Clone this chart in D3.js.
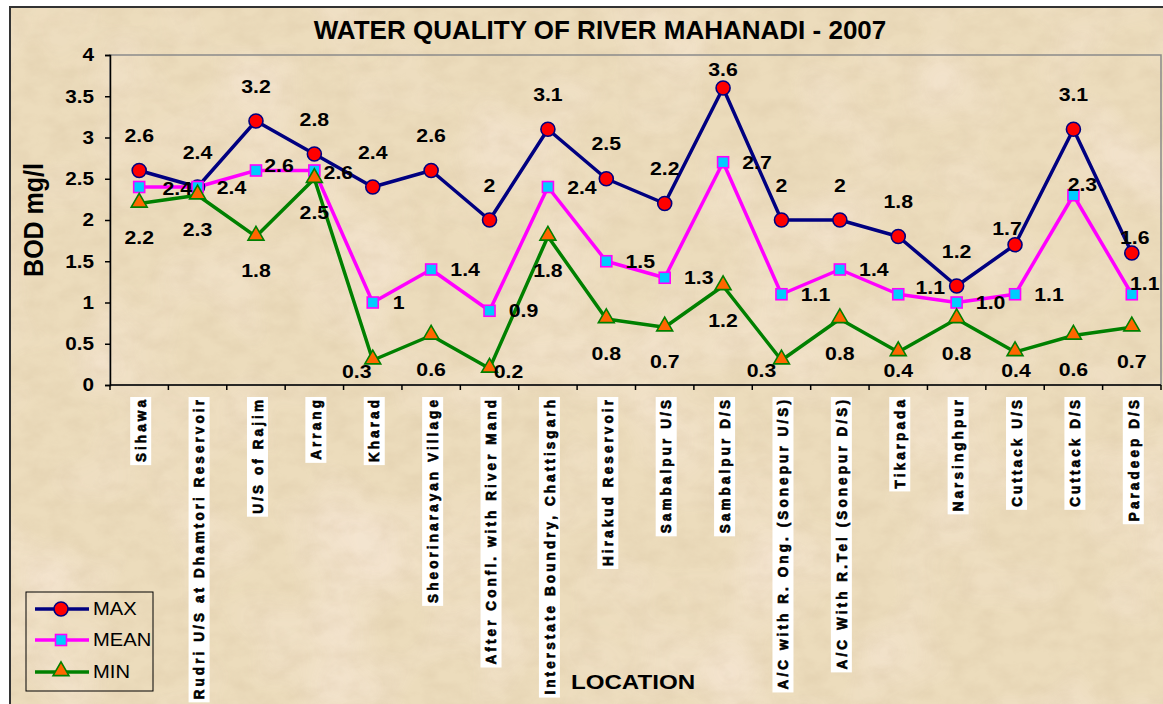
<!DOCTYPE html>
<html>
<head>
<meta charset="utf-8">
<script src="https://cdn.jsdelivr.net/npm/d3@7/dist/d3.min.js"></script>
<style>
  html, body { margin: 0; padding: 0; background: #ffffff; }
  svg { display: block; }
  text { font-family: "Liberation Sans", Arial, sans-serif; fill: #000; }
</style>
</head>
<body>
<script>
// BOD (mg/l) measured along the Mahanadi in 2007
const locations = [
  "Sihawa",
  "Rudri U/S at Dhamtori Reservoir",
  "U/S of Rajim",
  "Arrang",
  "Kharad",
  "Sheorinarayan Village",
  "After Confl. with River Mand",
  "Interstate Boundry, Chattisgarh",
  "Hirakud Reservoir",
  "Sambalpur U/S",
  "Sambalpur D/S",
  "A/C with R. Ong. (Sonepur U/S)",
  "A/C With R.Tel (Sonepur D/S)",
  "Tikarpada",
  "Narsinghpur",
  "Cuttack U/S",
  "Cuttack D/S",
  "Paradeep D/S"
];
const maxValues  = ["2.6","2.4","3.2","2.8","2.4","2.6","2","3.1","2.5","2.2","3.6","2","2","1.8","1.2","1.7","3.1","1.6"];
const meanValues = ["2.4","2.4","2.6","2.6","1","1.4","0.9","2.4","1.5","1.3","2.7","1.1","1.4","1.1","1.0","1.1","2.3","1.1"];
const minValues  = ["2.2","2.3","1.8","2.5","0.3","0.6","0.2","1.8","0.8","0.7","1.2","0.3","0.8","0.4","0.8","0.4","0.6","0.7"];
const yTicks = [0, 0.5, 1, 1.5, 2, 2.5, 3, 3.5, 4];
const seriesNames = ["MAX", "MEAN", "MIN"];

const W = 1163, H = 704;
const plot = { left: 110, right: 1161, top: 55, bottom: 385 };
const SX = 1.12; // horizontal text stretch

const svg = d3.select("body").append("svg").attr("width", W).attr("height", H);
const defs = svg.append("defs");

// parchment texture
const f = defs.append("filter").attr("id", "paper").attr("x", 0).attr("y", 0).attr("width", 1).attr("height", 1);
f.append("feTurbulence").attr("type", "fractalNoise").attr("baseFrequency", "0.04 0.06").attr("numOctaves", 4).attr("seed", 7).attr("result", "n");
f.append("feColorMatrix").attr("in", "n").attr("type", "matrix")
  .attr("values", "0 0 0 0 0.66  0 0 0 0 0.52  0 0 0 0 0.34  0 0 0 -1.6 1.05");
const f2 = defs.append("filter").attr("id", "blotch").attr("x", 0).attr("y", 0).attr("width", 1).attr("height", 1);
f2.append("feTurbulence").attr("type", "fractalNoise").attr("baseFrequency", "0.01").attr("numOctaves", 2).attr("seed", 3).attr("result", "n");
f2.append("feColorMatrix").attr("in", "n").attr("type", "matrix")
  .attr("values", "0 0 0 0 0.95  0 0 0 0 0.82  0 0 0 0 0.72  0 0 0 -2.2 1.25");

const bg = svg.append("g");
bg.append("rect").attr("x", 10).attr("y", 7).attr("width", W).attr("height", H).attr("fill", "#ecdcbc");
bg.append("rect").attr("x", 10).attr("y", 7).attr("width", W).attr("height", H).attr("filter", "url(#blotch)").attr("opacity", 0.6);
bg.append("rect").attr("x", 10).attr("y", 7).attr("width", W).attr("height", H).attr("filter", "url(#paper)").attr("opacity", 0.3);
bg.append("rect").attr("x", 10).attr("y", 7).attr("width", W + 20).attr("height", H + 20)
  .attr("fill", "none").attr("stroke", "#333").attr("stroke-width", 2);

function stext(parent, x, y, str, o = {}) {
  const t = parent.append("text")
    .attr("transform", `translate(${x},${y}) scale(${o.sx ?? SX},1)` + (o.rot ? ` rotate(${o.rot})` : ""))
    .attr("text-anchor", o.anchor || "middle")
    .attr("dy", o.dy ?? "0.35em")
    .style("font-size", (o.size || 18) + "px")
    .style("font-weight", o.weight || "bold")
    .text(str);
  if (o.ls) t.style("letter-spacing", o.ls + "px");
  if (o.heavy) t.attr("stroke", "#000").attr("stroke-width", o.heavy);
  return t;
}

const x = d3.scaleBand().domain(locations).range([plot.left, plot.right]);
const y = d3.scaleLinear().domain([0, 4]).range([plot.bottom, plot.top]);
const cx = d => x(d) + x.bandwidth() / 2;

// plot area frame
svg.append("rect").attr("x", plot.left).attr("y", plot.top)
  .attr("width", plot.right - plot.left).attr("height", plot.bottom - plot.top)
  .attr("fill", "none").attr("stroke", "#8a8a8a").attr("stroke-width", 1.5);

// title
stext(svg, 600, 30, "WATER QUALITY OF RIVER MAHANADI - 2007", { size: 26, sx: 1.0 });

// y axis
const yAxis = svg.append("g").attr("transform", `translate(${plot.left},0)`)
  .call(d3.axisLeft(y).tickValues(yTicks).tickSize(5).tickFormat(d3.format("")));
yAxis.select(".domain").attr("stroke", "#000").attr("stroke-width", 1.5);
yAxis.selectAll(".tick line").attr("stroke", "#000").attr("stroke-width", 1.5);
yAxis.selectAll(".tick text").remove();
yTicks.forEach(v => stext(svg, 94, y(v), d3.format("")(v), { anchor: "end", size: 18.5 }));
stext(svg, 33, 220, "BOD mg/l", { rot: -90, size: 25, sx: 1.1 });

// x axis with ticks on band boundaries
const xAxis = svg.append("g").attr("transform", `translate(0,${plot.bottom})`);
xAxis.append("line").attr("x1", plot.left).attr("x2", plot.right).attr("stroke", "#000").attr("stroke-width", 1.5);
xAxis.selectAll("line.tk").data(d3.range(locations.length + 1)).join("line").attr("class", "tk")
  .attr("x1", i => plot.left + i * x.step()).attr("x2", i => plot.left + i * x.step())
  .attr("y1", 0).attr("y2", 5).attr("stroke", "#000").attr("stroke-width", 1.5);

// vertical location labels on white tags
const catG = svg.append("g");
locations.forEach(name => {
  const g = catG.append("g");
  const t = stext(g, cx(name) + 1.5, 397, name, { rot: -90, anchor: "end", size: 13.5, ls: 3.1, sx: 1.1, heavy: 0.6 });
  const len = t.node().getComputedTextLength();
  g.insert("rect", "text")
    .attr("x", cx(name) + 1.5 - 10.5).attr("y", 397)
    .attr("width", 21).attr("height", len + 3)
    .attr("fill", "#ffffff");
});
stext(svg, 633, 682, "LOCATION", { size: 21, sx: 1.15 });

// series
const series = [
  { name: "MAX",  values: maxValues,  line: "#000080", fill: "#ff0000", stroke: "#000080", shape: "circle" },
  { name: "MEAN", values: meanValues, line: "#ff00ff", fill: "#00ccff", stroke: "#ff00ff", shape: "square" },
  { name: "MIN",  values: minValues,  line: "#008000", fill: "#ff6600", stroke: "#008000", shape: "triangle" }
];

// data label placement: default offset per series, with per-point adjustments
const labelOffset = { MAX: [0, -35], MEAN: [34, 0], MIN: [0, 34] };
const labelNudge = {
  MAX:  { 15: [-8, -16], 17: [3, -16] },
  MEAN: { 0: [38, 1], 2: [23, -5], 3: [24, 2], 4: [26, 0], 13: [32, -7], 16: [9, -11], 17: [13, -11] },
  MIN:  { 4: [-16, 12], 6: [19, 3], 11: [-20, 10], 13: [0, 18], 15: [1, 18] }
};

function marker(g, s, px, py) {
  if (s.shape === "circle") {
    g.append("circle").attr("cx", px).attr("cy", py).attr("r", 7)
      .attr("fill", s.fill).attr("stroke", s.stroke).attr("stroke-width", 1.6);
  } else if (s.shape === "square") {
    g.append("rect").attr("x", px - 5.5).attr("y", py - 5.5).attr("width", 11).attr("height", 11)
      .attr("fill", s.fill).attr("stroke", s.stroke).attr("stroke-width", 1.6);
  } else {
    g.append("path").attr("transform", `translate(${px},${py - 1})`)
      .attr("d", d3.symbol(d3.symbolTriangle, 110)())
      .attr("fill", s.fill).attr("stroke", s.stroke).attr("stroke-width", 1.6);
  }
}

const lineGen = d3.line().x((v, i) => cx(locations[i])).y(v => y(+v));
const linesG = svg.append("g"), marksG = svg.append("g"), labelsG = svg.append("g");
series.forEach(s => {
  linesG.append("path").datum(s.values).attr("d", lineGen)
    .attr("fill", "none").attr("stroke", s.line).attr("stroke-width", 3.5).attr("stroke-linejoin", "round");
});
series.forEach(s => {
  s.values.forEach((v, i) => marker(marksG, s, cx(locations[i]), y(+v)));
});
series.forEach(s => {
  s.values.forEach((v, i) => {
    const px = cx(locations[i]), py = y(+v);
    const off = (labelNudge[s.name][i]) || labelOffset[s.name];
    let ly = py + off[1];
    ly = Math.max(plot.top + 14, Math.min(plot.bottom - 14, ly));
    stext(labelsG, px + off[0], ly, v, { size: 19 });
  });
});

// legend
const lg = svg.append("g");
lg.append("rect").attr("x", 26).attr("y", 592).attr("width", 127).attr("height", 99)
  .attr("fill", "none").attr("stroke", "#000").attr("stroke-width", 1);
const legendY = [609, 640, 672];
series.forEach((s, k) => {
  lg.append("line").attr("x1", 35).attr("x2", 89).attr("y1", legendY[k]).attr("y2", legendY[k])
    .attr("stroke", s.line).attr("stroke-width", 3.5);
  marker(lg, s, 61, legendY[k]);
  stext(lg, 93, legendY[k], seriesNames[k], { anchor: "start", size: 18, weight: "normal" });
});
</script>
</body>
</html>
